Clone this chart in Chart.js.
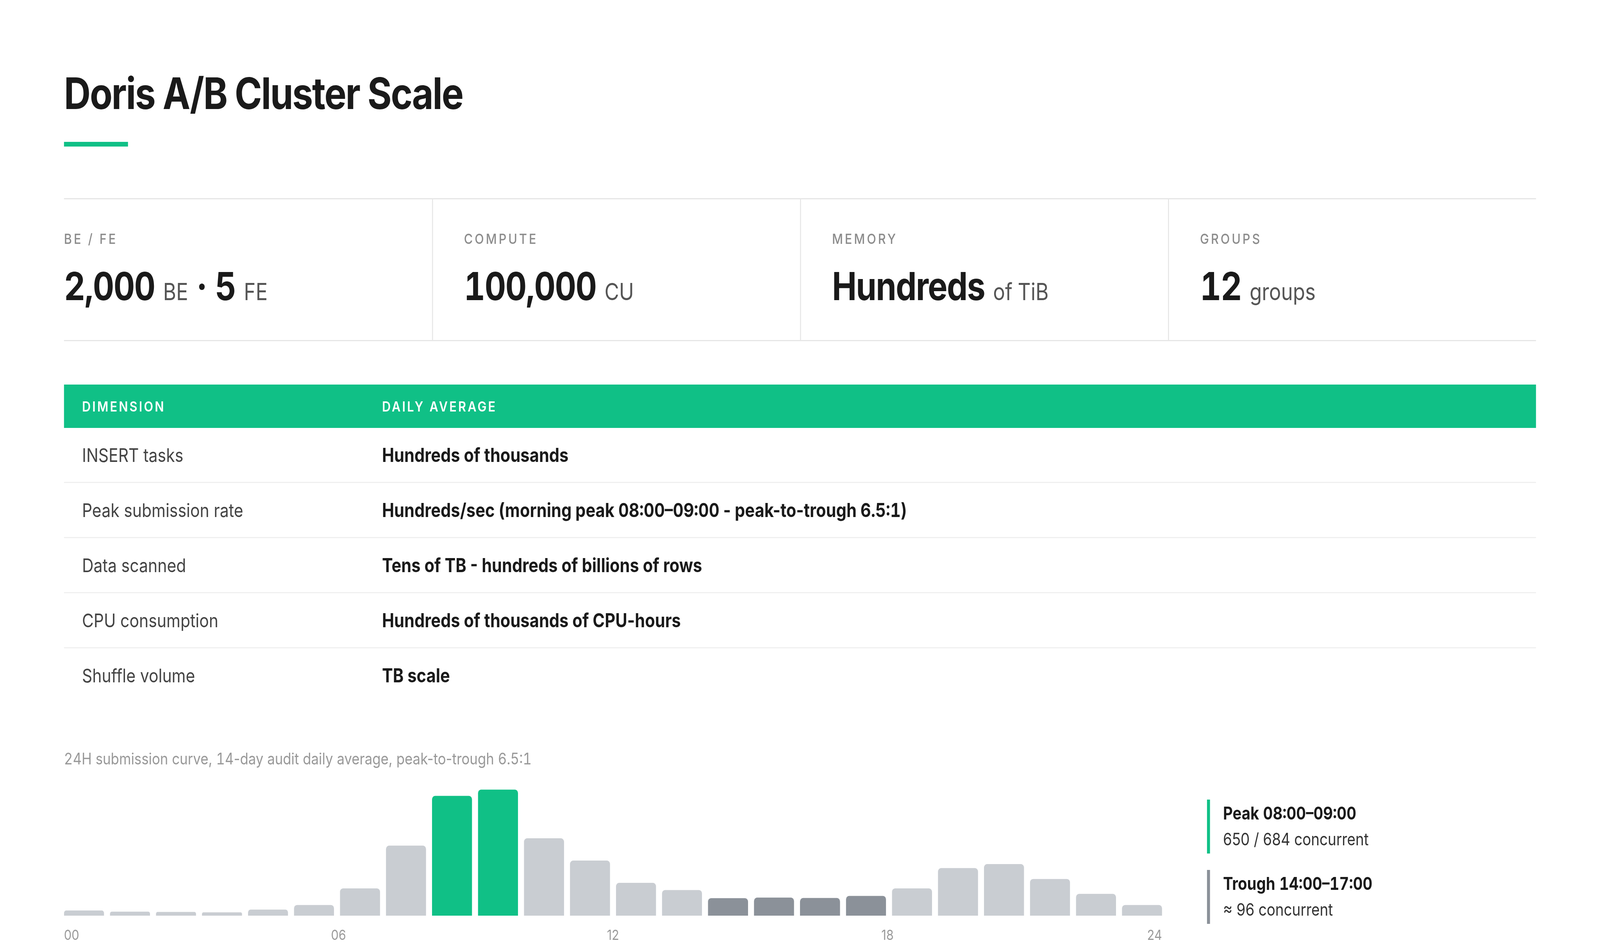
<!DOCTYPE html>
<html>
<head>
<meta charset="utf-8">
<script src="https://cdn.jsdelivr.net/npm/chart.js@4.4.1/dist/chart.umd.min.js"></script>
<style>
  html { margin: 0; padding: 0; overflow: hidden; background: #fff; }
  body { margin: 0; padding: 0; width: 100vw; height: 100vh; background: #fff; }
  .page {
    position: absolute; left: 0; top: 0; width: 1600px; height: 812px;
    transform-origin: 0 0;
    font-family: Inter, "Noto Sans", sans-serif; color: #1a1a1a;
  }
  .abs { position: absolute; }
  .tnum { font-variant-numeric: tabular-nums; }
  h1 { margin: 0; font-size: 37px; line-height: 40px; font-weight: 700; letter-spacing: -0.025em; left: 64px; top: 60px; }
  .accent { left: 64px; top: 121px; width: 64px; height: 4px; background: #10c086; }

  .stats {
    left: 64px; top: 169px; width: 1472px; height: 122px; box-sizing: border-box;
    border-top: 1px solid #e6e6e6; border-bottom: 1px solid #e6e6e6;
    display: grid; grid-template-columns: repeat(4, 1fr);
  }
  .stat { padding: 26px 0 0 31px; border-left: 1px solid #e6e6e6; }
  .stat:first-child { padding-left: 0; border-left: none; }
  .stat .lbl { font-size: 12px; line-height: 16px; letter-spacing: 0.16em; color: #8c8c8c; font-weight: 500; }
  .stat .val { margin-top: 12px; font-size: 33px; line-height: 40px; font-weight: 700; letter-spacing: -0.02em;
               font-variant-numeric: tabular-nums; }
  .stat .val span { font-size: 20px; font-weight: 400; color: #555; letter-spacing: 0; }

  .table { left: 64px; top: 328px; width: 1472px; }
  .thead { display: flex; height: 37px; line-height: 37px; background: #10c086; color: #fff;
           font-size: 12px; font-weight: 600; letter-spacing: 0.135em; }
  .row { display: flex; height: 47px; line-height: 46px; box-sizing: border-box;
         border-bottom: 1px solid #f0f0f0; font-size: 16px; }
  .row:last-child { border-bottom: none; }
  .c1 { width: 300px; padding-left: 18px; box-sizing: border-box; color: #444; }
  .c2 { padding-left: 18px; font-size: 16.3px; font-weight: 700; color: #1a1a1a; }
  .thead .c1, .thead .c2 { font-size: 12px; color: #fff; font-weight: 600; }

  .caption { left: 64px; top: 639px; font-size: 13.6px; line-height: 16px; color: #999; }
  .chartbox { left: 61px; top: 671px; width: 1104px; height: 137px; }

  .note { left: 1207px; border-left: 3px solid #10c086; padding: 1px 0 1px 13px; font-size: 14.4px; line-height: 22px; }
  .note b { font-size: 15px; font-weight: 700; color: #1a1a1a; display: block; font-variant-numeric: tabular-nums; }
  .note div { color: #333; }
  .note.trough { border-left-color: #8b9199; }
</style>
</head>
<body>
<div class="page" id="page">
  <h1 class="abs">Doris A/B Cluster Scale</h1>
  <div class="abs accent"></div>

  <div class="abs stats">
    <div class="stat"><div class="lbl">BE / FE</div><div class="val">2,000 <span>BE</span> · 5 <span>FE</span></div></div>
    <div class="stat"><div class="lbl">COMPUTE</div><div class="val">100,000 <span>CU</span></div></div>
    <div class="stat"><div class="lbl">MEMORY</div><div class="val">Hundreds <span>of TiB</span></div></div>
    <div class="stat"><div class="lbl">GROUPS</div><div class="val">12 <span>groups</span></div></div>
  </div>

  <div class="abs table">
    <div class="thead"><div class="c1">DIMENSION</div><div class="c2">DAILY AVERAGE</div></div>
    <div class="row"><div class="c1">INSERT tasks</div><div class="c2">Hundreds of thousands</div></div>
    <div class="row"><div class="c1">Peak submission rate</div><div class="c2">Hundreds/sec (morning peak <span class="tnum">08:00–09:00</span> - peak-to-trough <span class="tnum">6.5:1</span>)</div></div>
    <div class="row"><div class="c1">Data scanned</div><div class="c2">Tens of TB - hundreds of billions of rows</div></div>
    <div class="row"><div class="c1">CPU consumption</div><div class="c2">Hundreds of thousands of CPU-hours</div></div>
    <div class="row"><div class="c1">Shuffle volume</div><div class="c2">TB scale</div></div>
  </div>

  <div class="abs caption"><span class="tnum">24</span>H submission curve, <span class="tnum">14</span>-day audit daily average, peak-to-trough <span class="tnum">6.5:1</span></div>
  <div class="abs chartbox"><canvas id="hourChart"></canvas></div>

  <div class="abs note" style="top:682px"><b>Peak 08:00–09:00</b><div>650 / 684 concurrent</div></div>
  <div class="abs note trough" style="top:742px"><b>Trough 14:00–17:00</b><div>≈ 96 concurrent</div></div>
</div>

<script>
// hourly concurrent submissions, 00..23
const hours = ["00","01","02","03","04","05","06","07","08","09","10","11",
               "12","13","14","15","16","17","18","19","20","21","22","23"];
const concurrent = [28, 22, 20, 18, 33, 58, 148, 380, 650, 684, 420, 299,
                    178, 139, 95, 98, 96, 107, 148, 258, 280, 199, 118, 58];
const peakHours = ["08", "09"];
const troughHours = ["14", "15", "16", "17"];
const axisTicks = [0, 6, 12, 18, 24];

const GREEN = "#10c086";
const DARK = "#8b9199";
const LIGHT = "#c9cdd2";

// design is 1600x812, stretch it over whatever window we get
const page = document.getElementById("page");
page.style.transform = "scale(" + (window.innerWidth / 1600) + "," + (window.innerHeight / 812) + ")";

const barColors = hours.map(h =>
    peakHours.includes(h) ? GREEN : troughHours.includes(h) ? DARK : LIGHT);

// half a gap on each side so the bars sit flush with the 00 and 24 labels
const edge = 3 / 45.75;

new Chart(document.getElementById("hourChart").getContext("2d"), {
    type: "bar",
    data: {
        labels: hours,
        datasets: [{
            data: concurrent,
            backgroundColor: barColors,
            borderRadius: 3,
            borderSkipped: "bottom",
            barPercentage: 40 / 46,
            categoryPercentage: 1.0
        }]
    },
    options: {
        responsive: true,
        maintainAspectRatio: false,
        devicePixelRatio: 3,
        animation: false,
        layout: { padding: 0 },
        plugins: { legend: { display: false }, tooltip: { enabled: false } },
        scales: {
            x: { display: false },
            x2: {
                type: "linear",
                position: "bottom",
                offset: false,
                min: -edge,
                max: 24 + edge,
                afterBuildTicks: (axis) => { axis.ticks = axisTicks.map(v => ({ value: v })); },
                afterFit: (axis) => {
                    axis.height = 27;
                    // labels are edge-aligned, no need to inset the plot
                    axis.paddingLeft = 0;
                    axis.paddingRight = 0;
                },
                grid: { display: false, drawTicks: false, offset: false },
                border: { display: false },
                ticks: {
                    align: "inner",
                    padding: 10,
                    color: "#999",
                    font: { family: "Inter", size: 12 },
                    callback: (v) => String(v).padStart(2, "0")
                }
            },
            y: { display: false, min: 0, max: 700 }
        }
    }
});
</script>
</body>
</html>
